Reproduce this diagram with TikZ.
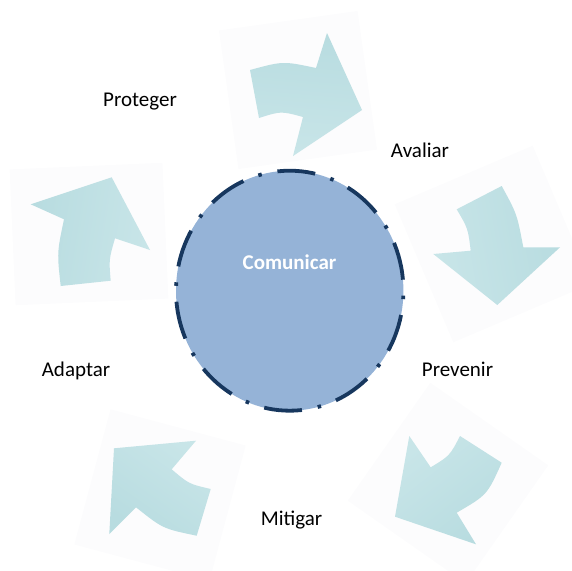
\documentclass[tikz,border=0pt]{standalone}
\usepackage{fontspec}
\setmainfont{Carlito}
\definecolor{hubfill}{HTML}{95B3D7}
\definecolor{hubline}{HTML}{17375E}
\definecolor{tealhi}{HTML}{C8E5E8}
\definecolor{teallo}{HTML}{B8DCE0}
\definecolor{paper}{HTML}{FCFCFD}
\usetikzlibrary{shapes.geometric}

\begin{document}
\begin{tikzpicture}[x=1pt,y=-1pt,
  tile/.style={fill=paper},
  cyc/.style={left color=teallo,right color=tealhi,shading angle=#1},
  lbl/.style={font=\fontsize{21}{25}\selectfont,anchor=base,inner sep=0pt},
  hub/.style={ellipse,draw=hubline,fill=hubfill,line width=3.8pt,
    minimum width=227.4pt,minimum height=240pt,inner sep=0pt,
    dash pattern=on 38pt off 16pt on 3.5pt off 15.93pt,dash phase=62.4pt}]
  \useasboundingbox (0,0) rectangle (572,570);

  % faint tiles behind the arrows
  \fill[tile,rotate around={8:(298,90)}] (228,20) rectangle (368,160);
  \fill[tile,rotate around={23:(493,244)}] (418,169) rectangle (568,319);
  \fill[tile,rotate around={-35:(448,483)}] (376,411) rectangle (520,555);
  \fill[tile,rotate around={-15:(160,495)}] (90,425) rectangle (230,565);
  \fill[tile,rotate around={2.5:(89,234)}] (12.5,166) rectangle (165.5,302);

  % curved arrows, clockwise
  \shade[cyc=-5] (250,70) .. controls (283,61) .. (316,68) -- (327,33)
    -- (362,110) -- (293,156) -- (303,117) .. controls (281,111) .. (259,118) -- cycle;
  \shade[cyc=-80] (456.7,209.3) -- (501.7,186) .. controls (517,214) .. (523.3,247.3)
    -- (560,247.3) -- (497.3,305) -- (433.3,254) -- (470.7,250.7)
    .. controls (468,228.5) .. (456.7,209.3) -- cycle;
  \shade[cyc=-142] (460,436) -- (501.7,462.7) .. controls (487.2,494.9) .. (456.7,512.7)
    -- (476,544.3) -- (395,516.7) -- (409.3,436) -- (430.7,467.3)
    .. controls (449.7,455.8) .. (460,436) -- cycle;
  \shade[cyc=145] (114,448.3) -- (196,440.7) -- (171.7,469.3)
    .. controls (188.8,483.9) .. (210.7,489) -- (196.7,535.7)
    .. controls (162.9,528.7) .. (136,507.3) -- (109.3,534) -- cycle;
  \shade[cyc=81] (30.7,204.3) -- (111.7,177.3) -- (150,250) -- (115,238.3)
    .. controls (108.9,259.5) .. (110.7,280.7) -- (60.7,286)
    .. controls (57,252.5) .. (64,219.3) -- cycle;

  % centre
  \node[hub] (hub) at (289.7,290.7) {};
  \node[lbl,text=white,font=\fontsize{21}{25}\selectfont\bfseries] (comunicar) at (289.5,269) {Comunicar};

  % stage labels
  \node[lbl] (proteger) at (140,106) {Proteger};
  \node[lbl] (avaliar) at (420,157) {Avaliar};
  \node[lbl] (prevenir) at (457.5,376) {Prevenir};
  \node[lbl] (mitigar) at (291.5,525) {Mitigar};
  \node[lbl] (adaptar) at (76,376) {Adaptar};
\end{tikzpicture}
\end{document}
